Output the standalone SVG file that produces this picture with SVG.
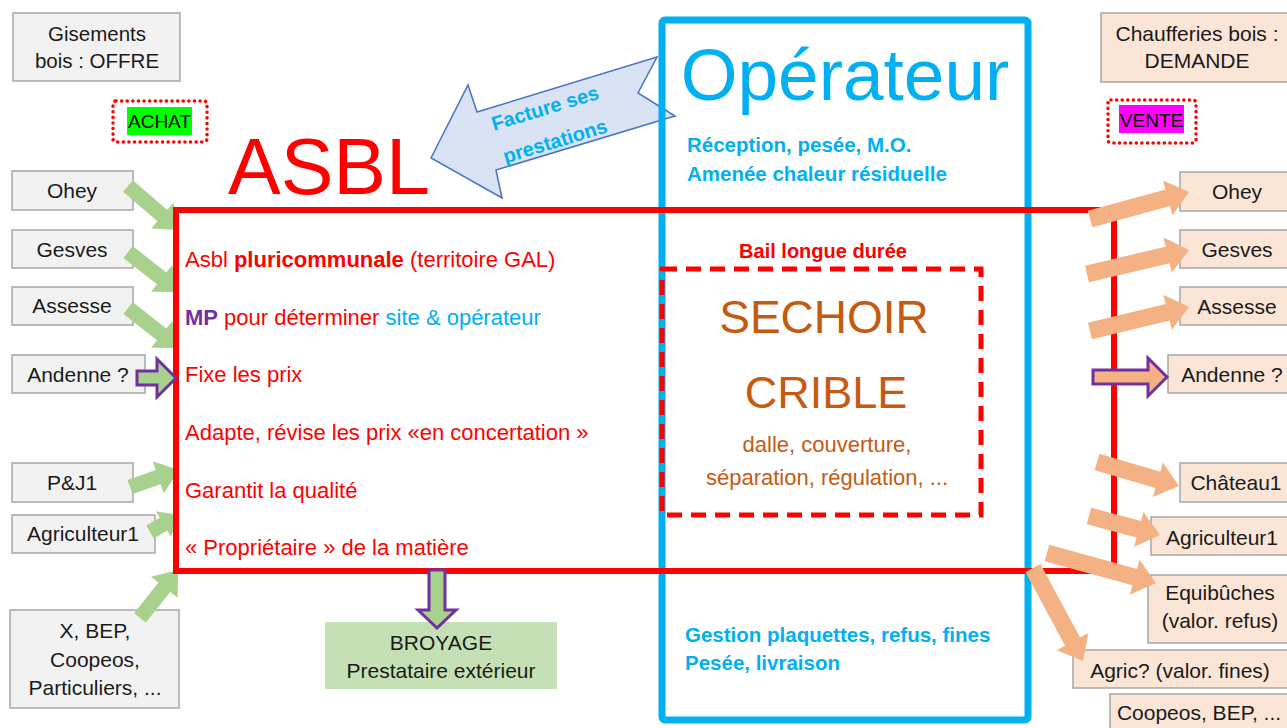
<svg xmlns="http://www.w3.org/2000/svg" width="1287" height="728" viewBox="0 0 1287 728">
<style>
text{font-family:"Liberation Sans",Arial,sans-serif}
.lbox{fill:#F2F2F2;stroke:#A6A6A6;stroke-width:1.5}
.rbox{fill:#FBE5D6;stroke:#A6A6A6;stroke-width:1.5}
.lbl{font-size:21px;fill:#1A1A1A;text-anchor:middle}
.asbl{font-size:22px;fill:#FF0000}
.op{font-size:20.5px;font-weight:bold;fill:#00B0F0}
.sech{fill:#C55A11;text-anchor:middle}
.ga{fill:#A9D18E}
.oa{fill:#F4B183}
.pa{stroke:#7030A0;stroke-width:3;stroke-linejoin:miter}
.dot{fill:none;stroke:#FF0000;stroke-width:3.5;stroke-dasharray:0.1 5.5;stroke-linecap:round}
</style>
<rect width="1287" height="728" fill="#FFFFFF"/>

<g id="offre"><rect class="lbox" x="13" y="13" width="167" height="68"/><text class="lbl" style="font-size:20.5px" x="97" y="41">Gisements</text><text class="lbl" style="font-size:20.5px" x="97" y="68">bois : OFFRE</text></g>
<g id="achat"><rect class="dot" x="113" y="101" width="94" height="41" rx="3"/><rect x="127" y="107" width="65" height="28" fill="#00FF00"/><text x="159.5" y="128" font-size="19" fill="#000" text-anchor="middle">ACHAT</text></g>
<g id="demande"><rect class="rbox" x="1101" y="13" width="200" height="69"/><text class="lbl" x="1197" y="41">Chaufferies bois :</text><text class="lbl" x="1197" y="68">DEMANDE</text></g>
<g id="vente"><rect class="dot" x="1108" y="100" width="88" height="43" rx="3"/><rect x="1119" y="105" width="65" height="28" fill="#FF00FF"/><text x="1151.5" y="127" font-size="19" fill="#000" text-anchor="middle">VENTE</text></g>

<g id="l-ohey"><rect class="lbox" x="12" y="171" width="121" height="39"/><text class="lbl" x="72" y="198">Ohey</text></g>
<g id="l-gesves"><rect class="lbox" x="12" y="230" width="121" height="38"/><text class="lbl" x="72" y="257">Gesves</text></g>
<g id="l-assesse"><rect class="lbox" x="12" y="287" width="121" height="38"/><text class="lbl" x="72" y="313">Assesse</text></g>
<g id="l-andenne"><rect class="lbox" x="12" y="355" width="133" height="38"/><text class="lbl" x="78" y="382">Andenne ?</text></g>
<g id="l-pj1"><rect class="lbox" x="12" y="463" width="121" height="39"/><text class="lbl" x="72" y="490">P&amp;J1</text></g>
<g id="l-agri"><rect class="lbox" x="12" y="515" width="143" height="38"/><text class="lbl" x="83" y="541">Agriculteur1</text></g>
<g id="l-autres"><rect class="lbox" x="10" y="610" width="169" height="98"/><text class="lbl" x="95" y="638">X, BEP,</text><text class="lbl" x="95" y="667">Coopeos,</text><text class="lbl" x="95" y="695">Particuliers, ...</text></g>

<g id="r-ohey"><rect class="rbox" x="1180" y="172" width="120" height="39"/><text class="lbl" x="1237" y="199">Ohey</text></g>
<g id="r-gesves"><rect class="rbox" x="1180" y="230" width="120" height="38"/><text class="lbl" x="1237" y="257">Gesves</text></g>
<g id="r-assesse"><rect class="rbox" x="1180" y="287" width="120" height="38"/><text class="lbl" x="1237" y="314">Assesse</text></g>
<g id="r-andenne"><rect class="rbox" x="1168" y="355" width="130" height="38"/><text class="lbl" x="1232" y="382">Andenne ?</text></g>
<g id="r-chateau"><rect class="rbox" x="1180" y="463" width="120" height="39"/><text class="lbl" x="1236" y="490">Château1</text></g>
<g id="r-agri"><rect class="rbox" x="1151" y="517" width="150" height="38"/><text class="lbl" x="1222" y="545">Agriculteur1</text></g>
<g id="r-equi"><rect class="rbox" x="1148" y="575" width="150" height="68"/><text class="lbl" x="1220" y="600">Equibûches</text><text class="lbl" x="1220" y="628">(valor. refus)</text></g>
<g id="r-agric"><rect class="rbox" x="1073" y="650" width="225" height="38"/><text class="lbl" x="1180" y="678">Agric? (valor. fines)</text></g>
<g id="r-coop"><rect class="rbox" x="1110" y="694" width="190" height="45"/><text class="lbl" x="1199" y="720">Coopeos, BEP, ...</text></g>

<g id="broyage"><rect x="325" y="622" width="232" height="67" fill="#C5E0B4"/><text class="lbl" x="441" y="650">BROYAGE</text><text class="lbl" x="441" y="678">Prestataire extérieur</text></g>

<g id="facture"><polygon points="431,158 468,85 477,112 657,57 638,93 675,116 496,170 502,198" fill="#DAE3F3" stroke="#4472C4" stroke-width="1.5" stroke-linejoin="miter"/>
<text transform="translate(545,108) rotate(-17)" y="7" font-size="20" font-weight="bold" fill="#00B0F0" text-anchor="middle">Facture ses</text>
<text transform="translate(555,141) rotate(-17)" y="7" font-size="20" font-weight="bold" fill="#00B0F0" text-anchor="middle">prestations</text></g>

<g id="operateur"><rect x="662" y="20" width="366" height="700" rx="3" fill="none" stroke="#00B0F0" stroke-width="7"/>
<text x="845" y="100" font-size="73" fill="#00B0F0" text-anchor="middle">Opérateur</text>
<text class="op" x="687" y="152">Réception, pesée, M.O.</text>
<text class="op" x="687" y="181">Amenée chaleur résiduelle</text>
<text class="op" x="685" y="642">Gestion plaquettes, refus, fines</text>
<text class="op" x="685" y="670">Pesée, livraison</text></g>

<g id="connectors-left">
<polygon class="ga" transform="translate(179,230) rotate(40.8)" points="-67.4,-7.5 -22,-7.5 -22,-17 0,0 -22,17 -22,7.5 -67.4,7.5"/>
<polygon class="ga" transform="translate(179,292) rotate(38.1)" points="-64.8,-7.5 -22,-7.5 -22,-17 0,0 -22,17 -22,7.5 -64.8,7.5"/>
<polygon class="ga" transform="translate(179,348) rotate(38.1)" points="-64.8,-7.5 -22,-7.5 -22,-17 0,0 -22,17 -22,7.5 -64.8,7.5"/>
<polygon class="ga" transform="translate(179,470) rotate(-19.1)" points="-51.9,-7.5 -22,-7.5 -22,-17 0,0 -22,17 -22,7.5 -51.9,7.5"/>
<polygon class="ga" transform="translate(179,515) rotate(-30.4)" points="-33.6,-7.5 -18,-7.5 -18,-15 0,0 -18,15 -18,7.5 -33.6,7.5"/>
<polygon class="ga" transform="translate(178,570) rotate(-51.6)" points="-61.2,-7.5 -22,-7.5 -22,-17 0,0 -22,17 -22,7.5 -61.2,7.5"/>
</g>

<g id="asbl"><rect x="176" y="210" width="938" height="361" fill="none" stroke="#FF0000" stroke-width="6"/>
<text x="329" y="194" font-size="79" fill="#FF0000" text-anchor="middle">ASBL</text>
<text class="asbl" x="185" y="267">Asbl <tspan font-weight="bold">pluricommunale</tspan> (territoire GAL)</text>
<text class="asbl" x="185" y="325"><tspan font-weight="bold" fill="#7030A0">MP</tspan> pour déterminer <tspan fill="#00B0F0">site &amp; opérateur</tspan></text>
<text class="asbl" x="185" y="382">Fixe les prix</text>
<text class="asbl" x="185" y="440">Adapte, révise les prix «en concertation »</text>
<text class="asbl" x="185" y="498">Garantit la qualité</text>
<text class="asbl" x="185" y="555">« Propriétaire » de la matière</text></g>

<g id="sechoir"><rect x="662" y="269" width="319" height="246" fill="none" stroke="#FF0000" stroke-width="5" stroke-dasharray="15 9"/>
<text x="823" y="258" font-size="20" font-weight="bold" fill="#FF0000" text-anchor="middle">Bail longue durée</text>
<text class="sech" x="824" y="333" font-size="46">SECHOIR</text>
<text class="sech" x="826" y="408" font-size="45">CRIBLE</text>
<text class="sech" x="827" y="452" font-size="22">dalle, couverture,</text>
<text class="sech" x="827" y="485" font-size="22">séparation, régulation, ...</text></g>

<g id="connectors">
<polygon class="ga pa" points="137,371 157,371 157,359 176,378 157,397 157,385 137,385"/>
<polygon class="ga pa" points="429,570 445,570 445,610 456,610 437,628 418,610 429,610"/>
<polygon class="oa pa" points="1093,370 1148,370 1148,358 1167,377 1148,396 1148,384 1093,384"/>
<polygon class="oa" transform="translate(1189,192) rotate(-15.3)" points="-102.6,-8.5 -22,-8.5 -22,-18 0,0 -22,18 -22,8.5 -102.6,8.5"/>
<polygon class="oa" transform="translate(1189,250) rotate(-13.2)" points="-104.8,-8.5 -22,-8.5 -22,-18 0,0 -22,18 -22,8.5 -104.8,8.5"/>
<polygon class="oa" transform="translate(1189,307) rotate(-13.6)" points="-101.9,-8.5 -22,-8.5 -22,-18 0,0 -22,18 -22,8.5 -101.9,8.5"/>
<polygon class="oa" transform="translate(1179,486) rotate(16.3)" points="-85.4,-8.5 -22,-8.5 -22,-18 0,0 -22,18 -22,8.5 -85.4,8.5"/>
<polygon class="oa" transform="translate(1160,535) rotate(15)" points="-73.5,-8.5 -22,-8.5 -22,-18 0,0 -22,18 -22,8.5 -73.5,8.5"/>
<polygon class="oa" transform="translate(1156,583) rotate(15.4)" points="-113.1,-8.5 -22,-8.5 -22,-18 0,0 -22,18 -22,8.5 -113.1,8.5"/>
<polygon class="oa" transform="translate(1083,661) rotate(61.7)" points="-105.6,-8.5 -22,-8.5 -22,-18 0,0 -22,18 -22,8.5 -105.6,8.5"/>
</g>
</svg>
